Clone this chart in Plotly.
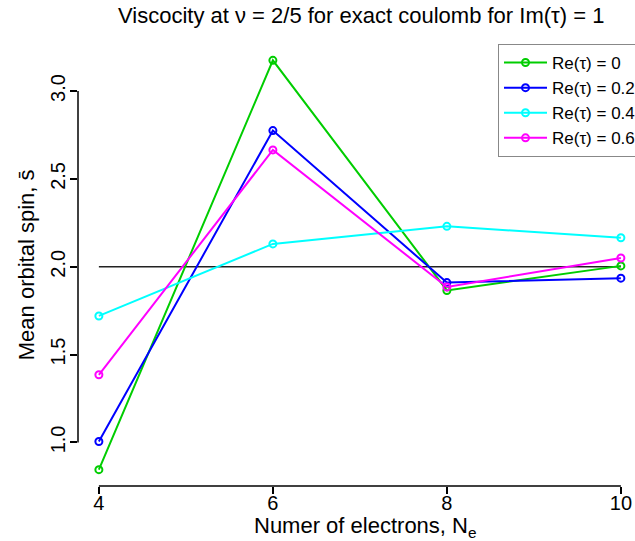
import plotly.graph_objects as go

# ---- data ----
n_electrons = [4, 6, 8, 10]
series_names = ["Re(τ) = 0", "Re(τ) = 0.2", "Re(τ) = 0.4", "Re(τ) = 0.6"]
spin_re0 = [0.845, 3.175, 1.865, 2.005]
spin_re02 = [1.005, 2.775, 1.910, 1.935]
spin_re04 = [1.720, 2.130, 2.230, 2.165]
spin_re06 = [1.385, 2.665, 1.885, 2.050]
ref_x = [4, 10]
ref_y = [2.0, 2.0]
y_ticks = [1.0, 1.5, 2.0, 2.5, 3.0]
y_ticktext = ["1.0", "1.5", "2.0", "2.5", "3.0"]
x_ticks = [4, 6, 8, 10]
x_ticktext = ["4", "6", "8", "10"]

colors = ["#00CD00", "#0000FF", "#00FFFF", "#FF00FF"]
FONT = "Liberation Sans, Arial, Helvetica, sans-serif"

fig = go.Figure()

fig.add_trace(go.Scatter(x=ref_x, y=ref_y, mode="lines",
                         line=dict(color="#222222", width=1.5),
                         showlegend=False, hoverinfo="skip"))

for name, vals, col in zip(series_names,
                           [spin_re0, spin_re02, spin_re04, spin_re06], colors):
    fig.add_trace(go.Scatter(
        x=n_electrons, y=vals, mode="lines+markers", name=name,
        line=dict(color=col, width=2),
        marker=dict(symbol="circle-open", size=7, color=col,
                    line=dict(color=col, width=2)),
        cliponaxis=False,
    ))

W, H = 635, 541
ml, mr, mt, mb = 78, 0, 43.5, 55
pw = W - ml - mr
ph = H - mt - mb

def px_x(p):
    return (p - ml) / pw

def px_y(p):
    return (H - mb - p) / ph

fig.update_layout(
    width=W, height=H,
    margin=dict(l=ml, r=mr, t=mt, b=mb, pad=0, autoexpand=False),
    paper_bgcolor="white", plot_bgcolor="white",
    font=dict(family=FONT, size=20, color="black"),
    xaxis=dict(range=[3.76, 3.76 + pw / 87.0], showgrid=False, zeroline=False,
               showline=False, ticks="outside", ticklen=7, tickwidth=1.5,
               tickcolor="black", tickvals=x_ticks, ticktext=x_ticktext,
               tickfont=dict(size=20), ticklabelstandoff=-8, automargin=False),
    yaxis=dict(range=[0.752, 3.268], showgrid=False, zeroline=False,
               showline=False, ticks="outside", ticklen=7, tickwidth=1.5,
               tickcolor="black", tickvals=y_ticks, ticktext=y_ticktext,
               tickangle=-90, tickfont=dict(size=20), ticklabelstandoff=-3,
               automargin=False),
    legend=dict(x=px_x(498), y=1, xanchor="left", yanchor="top",
                bordercolor="#888888", borderwidth=1, bgcolor="white",
                font=dict(size=17), itemwidth=43, tracegroupgap=0),
    showlegend=True,
)

# R-style axis lines spanning first to last tick
fig.add_shape(type="line", xref="paper", yref="y", x0=0, x1=0,
              y0=y_ticks[0], y1=y_ticks[-1], line=dict(color="black", width=1.5))
fig.add_shape(type="line", xref="x", yref="paper", x0=x_ticks[0], x1=x_ticks[-1],
              y0=0, y1=0, line=dict(color="black", width=1.5))

fig.add_annotation(text="Viscocity at ν = 2/5 for exact coulomb for Im(τ) = 1",
                   xref="paper", yref="paper", x=px_x(361), y=px_y(15),
                   xanchor="center", yanchor="middle", showarrow=False,
                   font=dict(size=22))
fig.add_annotation(text="Numer of electrons, N<sub>e</sub>",
                   xref="paper", yref="paper", x=px_x(365), y=px_y(527),
                   xanchor="center", yanchor="middle", showarrow=False,
                   font=dict(size=22))
fig.add_annotation(text="Mean orbital spin, s\u0304",
                   xref="paper", yref="paper", x=px_x(26), y=px_y(265),
                   xanchor="center", yanchor="middle", showarrow=False,
                   textangle=-90, font=dict(size=22))

fig.write_html("out.html")
